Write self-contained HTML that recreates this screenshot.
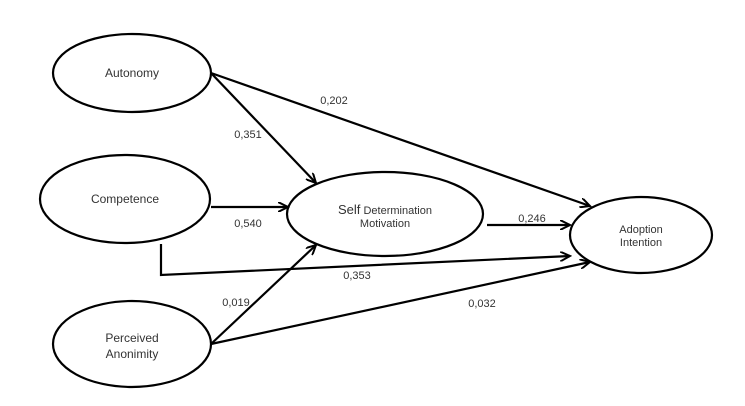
<!DOCTYPE html>
<html><head><style>body{margin:0;background:#fff}svg{display:block}text{font-family:"Liberation Sans",sans-serif;fill:#333}</style></head><body>
<svg width="745" height="406" viewBox="0 0 745 406">
<defs><marker id="a" markerWidth="12" markerHeight="10" refX="10" refY="5" orient="auto" markerUnits="userSpaceOnUse"><path d="M0,0 L10,5 L0,10" fill="none" stroke="#000" stroke-width="2"/></marker></defs>
<g fill="#fff" stroke="#000" stroke-width="2.2">
<ellipse cx="132" cy="73" rx="79" ry="39"/>
<ellipse cx="125" cy="199" rx="85" ry="44"/>
<ellipse cx="132" cy="344" rx="79" ry="43"/>
<ellipse cx="385" cy="214" rx="98" ry="42"/>
<ellipse cx="641" cy="235" rx="71" ry="38"/>
</g>
<g stroke="#000" stroke-width="2.2" fill="none" marker-end="url(#a)">
<line x1="211" y1="73" x2="590" y2="206"/>
<line x1="211" y1="73" x2="316" y2="183"/>
<line x1="211" y1="207" x2="288" y2="207"/>
<polyline points="161,244 161,275 570,256"/>
<line x1="487" y1="225" x2="570" y2="225"/>
<line x1="211" y1="344" x2="316" y2="245"/>
<line x1="211" y1="344" x2="590" y2="262"/>
</g>
<g font-size="11">
<text x="132" y="77" text-anchor="middle" font-size="12">Autonomy</text>
<text x="125" y="203" text-anchor="middle" font-size="12">Competence</text>
<text x="132" y="342" text-anchor="middle" font-size="12">Perceived</text>
<text x="132" y="358" text-anchor="middle" font-size="12">Anonimity</text>
<text x="385" y="214" text-anchor="middle"><tspan font-size="13">Self</tspan> Determination</text>
<text x="385" y="227" text-anchor="middle">Motivation</text>
<text x="641" y="233" text-anchor="middle">Adoption</text>
<text x="641" y="246" text-anchor="middle">Intention</text>
<text x="334" y="104" text-anchor="middle">0,202</text>
<text x="248" y="138" text-anchor="middle">0,351</text>
<text x="248" y="227" text-anchor="middle">0,540</text>
<text x="357" y="279" text-anchor="middle">0,353</text>
<text x="236" y="306" text-anchor="middle">0,019</text>
<text x="482" y="307" text-anchor="middle">0,032</text>
<text x="532" y="222" text-anchor="middle">0,246</text>
</g>
</svg>
</body></html>
